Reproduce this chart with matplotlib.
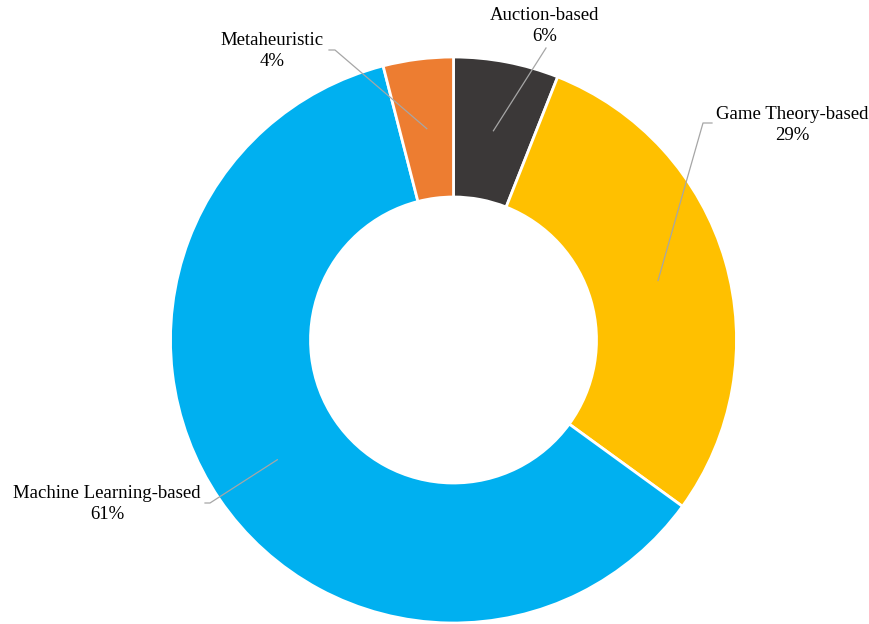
import matplotlib.pyplot as plt
import numpy as np

# data
labels = ['Auction-based', 'Game Theory-based', 'Machine Learning-based', 'Metaheuristic']
values = [6, 29, 61, 4]
colors = ['#3B3838', '#FFC000', '#00B0F0', '#ED7D31']

plt.rcParams['font.family'] = ['Liberation Serif', 'DejaVu Serif']

H = 624
fig = plt.figure(figsize=(8.7, 6.24), dpi=100)
ax = fig.add_axes([0, 0, 1, 1])

cx, cy = 453.5, H - 340
R, r_in = 283, 143
ax.pie(values, colors=colors, startangle=90, counterclock=False,
       center=(cx, cy), radius=R, frame=True,
       wedgeprops=dict(width=R - r_in, edgecolor='white', linewidth=2))
ax.set_xlim(0, 870)
ax.set_ylim(0, H)
ax.set_aspect('equal')
ax.axis('off')

# label layout (pixel coords, y down): elbow point, text centre
elbows = [(546, 48), (712, 123), (205, 503), (329, 50)]
ends = [(546, 48), (703, 123), (210, 503), (335, 50)]
texts = [(545, 26), (792, 125), (107, 504), (272, 51)]

cum = 0
r_mid = (R + r_in) / 2
for lab, v, el, en, tp in zip(labels, values, elbows, ends, texts):
    ang = np.deg2rad(90 - 360 * (cum + v / 2) / sum(values))
    cum += v
    x0 = cx + r_mid * np.cos(ang)
    y0 = cy + r_mid * np.sin(ang)
    ax.plot([x0, en[0], el[0]], [y0, H - en[1], H - el[1]], color='#A6A6A6', lw=0.9)
    ax.text(tp[0], H - tp[1], '%s\n%d%%' % (lab, v), ha='center', va='center',
            fontsize=13.5, linespacing=1.27, color='black')

fig.savefig('out.png', dpi=100)
